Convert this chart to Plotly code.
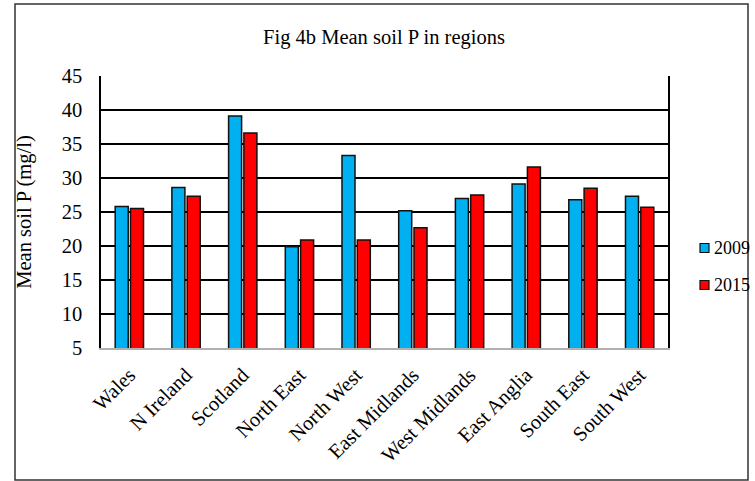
import plotly.graph_objects as go

regions = ["Wales", "N Ireland", "Scotland", "North East", "North West",
           "East Midlands", "West Midlands", "East Anglia", "South East", "South West"]
years = ["2009", "2015"]
p_2009 = [25.8, 28.6, 39.1, 19.9, 33.3, 25.2, 27.0, 29.1, 26.8, 27.3]
p_2015 = [25.5, 27.3, 36.6, 20.9, 20.9, 22.7, 27.5, 31.6, 28.5, 25.7]
y_ticks = [5, 10, 15, 20, 25, 30, 35, 40, 45]

FONT = "Liberation Serif, Times New Roman, serif"
FS = 20.5
COLORS = ["#00B0F0", "#FF0000"]

fig = go.Figure()
for name, vals, col in zip(years, [p_2009, p_2015], COLORS):
    fig.add_trace(go.Bar(
        x=regions, y=vals, name=name, showlegend=False,
        marker=dict(color=col, line=dict(color="#111111", width=1.5)),
    ))

# plot area spans x 101..668, y 76..348 in a 755x481 page
L, R, T, B = 101, 87, 76, 133
W, H = 755 - L - R, 481 - T - B


def px_x(x):
    """Page pixel column -> paper x."""
    return (x - L) / W


def px_y(y):
    """Page pixel row -> paper y."""
    return (T + H - y) / H


fig.update_layout(
    width=755, height=481,
    margin=dict(l=L, r=R, t=T, b=B, pad=0, autoexpand=False),
    paper_bgcolor="white", plot_bgcolor="white",
    font=dict(family=FONT, size=FS, color="black"),
    barmode="group", bargap=0.46, bargroupgap=0.15,
    title=dict(text="Fig 4b Mean soil P in regions", x=384 / 755, xref="container",
               xanchor="center", y=1 - 37 / 481, yref="container", yanchor="middle",
               font=dict(family=FONT, size=FS, color="black")),
    xaxis=dict(showgrid=False, showline=True, linecolor="#b0b0b0", linewidth=2,
               tickangle=-45, ticks="", ticklabelstandoff=5,
               tickfont=dict(family=FONT, size=FS)),
    yaxis=dict(range=[5, 45], tickvals=y_ticks, showgrid=True, gridcolor="black",
               gridwidth=1.5, showline=True, linecolor="black", linewidth=1.5,
               mirror=True, ticks="", ticklabelstandoff=13, zeroline=False,
               title=dict(text="Mean soil P (mg/l)", standoff=24,
                          font=dict(family=FONT, size=FS)),
               tickfont=dict(family=FONT, size=FS)),
)

# legend: small outlined swatch followed by the year
for i, (name, col) in enumerate(zip(years, COLORS)):
    cy = 248 + 37 * i
    fig.add_shape(type="rect", xref="paper", yref="paper",
                  x0=px_x(700), x1=px_x(709), y0=px_y(cy + 4.5), y1=px_y(cy - 4.5),
                  fillcolor=col, line=dict(color="#111111", width=1.2))
    fig.add_annotation(xref="paper", yref="paper", x=px_x(712), y=px_y(cy),
                       xanchor="left", yanchor="middle", text=name, showarrow=False,
                       font=dict(family=FONT, size=18, color="black"))

# outer frame around the whole chart
fig.add_shape(type="rect", xref="paper", yref="paper",
              x0=px_x(15), x1=px_x(748), y0=px_y(480), y1=px_y(4),
              line=dict(color="#333333", width=1.5), layer="below")

fig.write_html("out.html")
